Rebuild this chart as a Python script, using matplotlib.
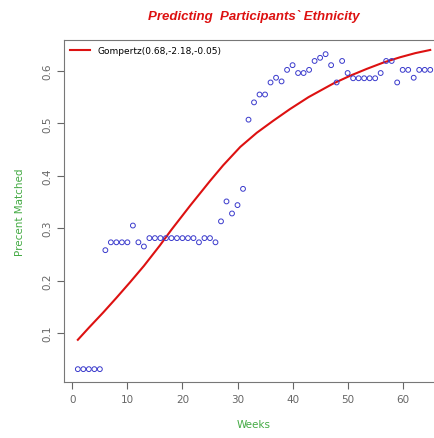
import numpy as np
import matplotlib.pyplot as plt

weeks = np.arange(1, 66)
matched = [0.031, 0.031, 0.031, 0.031, 0.031,
           0.258, 0.273, 0.273, 0.273, 0.273,
           0.305, 0.273, 0.265,
           0.281, 0.281, 0.281, 0.281, 0.281, 0.281, 0.281, 0.281, 0.281,
           0.273, 0.281, 0.281, 0.273,
           0.313, 0.351, 0.328, 0.344, 0.375,
           0.507, 0.540, 0.555, 0.555, 0.578, 0.587, 0.580, 0.602, 0.611,
           0.596, 0.596, 0.602, 0.619, 0.625, 0.632, 0.611, 0.578, 0.619,
           0.596, 0.586, 0.586, 0.586, 0.586, 0.586, 0.596, 0.619, 0.619,
           0.578, 0.602, 0.602, 0.587, 0.602, 0.602, 0.602]

# fitted gompertz curve
fit_weeks = [1, 3, 5.6, 8, 10.5, 13, 15.9, 18, 21.4, 25.0, 27.4, 30.5,
             33.5, 36.5, 39.5, 42.9, 47.4, 50.5, 53.5, 56.5, 59.5, 62.3, 65]
fit_vals = [0.087, 0.110, 0.139, 0.167, 0.197, 0.228, 0.267, 0.297, 0.343,
            0.390, 0.420, 0.455, 0.482, 0.505, 0.527, 0.550, 0.576, 0.591,
            0.604, 0.616, 0.626, 0.634, 0.640]

fig = plt.figure(figsize=(4.34, 4.39), dpi=100)
ax = fig.add_axes([0.147, 0.1276, 0.876, 0.779])

ax.scatter(weeks, matched, s=12, facecolors='none', edgecolors='#3a3acc', linewidths=0.7, zorder=3)
ax.plot(fit_weeks, fit_vals, color='#dd1111', lw=1.5, label='Gompertz(0.68,-2.18,-0.05)')

ax.set_xlim(-1.55, 67.5)
ax.set_ylim(0.0065, 0.659)
ax.set_xticks([0, 10, 20, 30, 40, 50, 60])
ax.set_yticks([0.1, 0.2, 0.3, 0.4, 0.5, 0.6])
ax.set_yticklabels(['0.1', '0.2', '0.3', '0.4', '0.5', '0.6'], rotation=90, va='center')
ax.tick_params(labelsize=7.5, colors='#666666', length=5, width=0.8)
for s in ax.spines.values():
    s.set_color('#777777')
    s.set_linewidth(0.8)

ax.set_title('Predicting  Participants` Ethnicity', color='#dd1111', fontsize=9.5,
             fontweight='bold', style='italic', family='Liberation Sans', pad=15)
ax.set_xlabel('Weeks', color='#44aa44', fontsize=7.5, labelpad=11)
ax.set_ylabel('Precent Matched', color='#44aa44', fontsize=7.5, labelpad=12)

ax.legend(loc='upper left', frameon=False, fontsize=6.5, handlelength=2.2, borderaxespad=0.3)

fig.savefig('out.png', dpi=100)
